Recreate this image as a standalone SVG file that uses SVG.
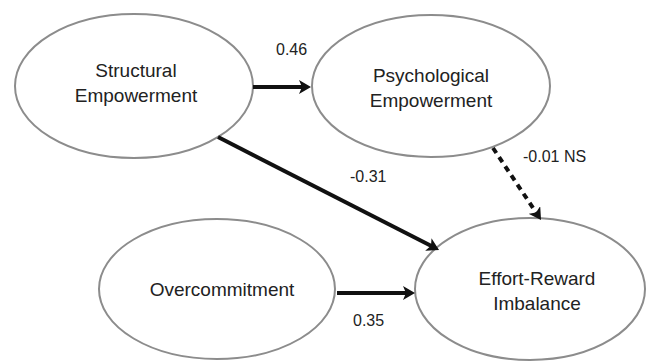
<svg xmlns="http://www.w3.org/2000/svg" width="646" height="362" viewBox="0 0 646 362">
  <style>
    .node ellipse { fill: #ffffff; stroke: #8c8c8c; stroke-width: 2; }
    .node text { font-family: "Liberation Sans", Arial, sans-serif; font-size: 19px; fill: #222222; text-anchor: middle; }
    .edge { stroke: #111111; stroke-width: 4; fill: none; marker-end: url(#head); }
    .dashed { stroke-dasharray: 6 5; }
    .lbl { font-family: "Liberation Sans", Arial, sans-serif; font-size: 16px; fill: #222222; }
  </style>
  <defs>
    <marker id="head" viewBox="0 0 12 14" markerWidth="12" markerHeight="14" refX="4" refY="7" orient="auto" markerUnits="userSpaceOnUse">
      <path d="M0,0 L12,7 L0,14 L3,7 z" fill="#111111"/>
    </marker>
  </defs>
  <rect width="646" height="362" fill="#ffffff"/>

  <!-- structural model nodes -->
  <g id="structural-empowerment" class="node">
    <ellipse cx="134" cy="86" rx="119" ry="72"/>
    <text x="136" y="77">Structural</text>
    <text x="136" y="102">Empowerment</text>
  </g>
  <g id="psychological-empowerment" class="node">
    <ellipse cx="431" cy="86" rx="119" ry="71"/>
    <text x="431" y="82">Psychological</text>
    <text x="431" y="107">Empowerment</text>
  </g>
  <g id="overcommitment" class="node">
    <ellipse cx="217" cy="289" rx="118" ry="70"/>
    <text x="222" y="296">Overcommitment</text>
  </g>
  <g id="effort-reward-imbalance" class="node">
    <ellipse cx="530" cy="289" rx="115" ry="71"/>
    <text x="537" y="285">Effort-Reward</text>
    <text x="537" y="310">Imbalance</text>
  </g>

  <!-- paths with coefficients -->
  <g id="connectors">
    <line class="edge" x1="253" y1="87" x2="303" y2="87"/>
    <line class="edge" x1="218" y1="137" x2="431.9" y2="246.3"/>
    <line class="edge dashed" x1="493" y1="148" x2="536.6" y2="213.3"/>
    <line class="edge" x1="337" y1="293" x2="407" y2="293"/>
    <text class="lbl" x="276" y="55">0.46</text>
    <text class="lbl" x="350" y="182">-0.31</text>
    <text class="lbl" x="523" y="162">-0.01 NS</text>
    <text class="lbl" x="353" y="326">0.35</text>
  </g>
</svg>
